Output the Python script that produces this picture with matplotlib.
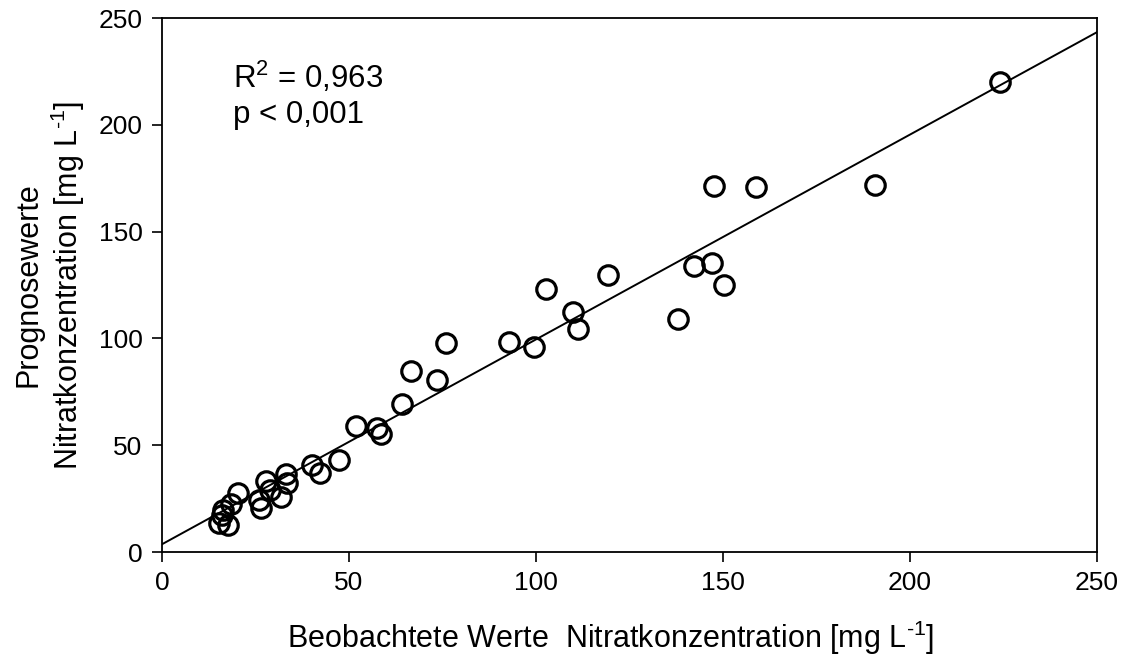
import numpy as np
import matplotlib.pyplot as plt

# observed vs predicted nitrate concentration [mg/L]
beobachtet = [224.1, 147.7, 158.7, 190.7, 119.3, 102.7, 142.3, 147.1, 150.3, 137.9,
              109.8, 111.3, 92.8, 99.5, 75.9, 66.5, 73.4, 64.3, 51.9, 57.4,
              58.5, 47.3, 40.0, 42.2, 33.1, 33.3, 27.8, 28.9, 31.7, 25.8,
              26.5, 20.2, 18.4, 16.4, 15.1, 16.0, 17.7]
prognose = [220.0, 171.5, 171.0, 172.0, 129.7, 123.0, 133.9, 135.2, 125.0, 108.9,
            112.5, 104.4, 98.5, 95.8, 97.7, 84.9, 80.5, 69.3, 58.8, 57.9,
            55.4, 43.1, 40.7, 36.8, 36.5, 32.2, 33.2, 29.0, 25.9, 24.3,
            20.6, 27.5, 22.5, 19.7, 13.4, 17.3, 12.6]
r2_text = "R$^2$ = 0,963"
p_text = "p < 0,001"

plt.rcParams['font.family'] = ['Liberation Sans', 'DejaVu Sans']
plt.rcParams['mathtext.fontset'] = 'custom'
plt.rcParams['mathtext.rm'] = 'Liberation Sans'
plt.rcParams['mathtext.it'] = 'Liberation Sans'

fig = plt.figure(figsize=(11.26, 6.57), dpi=100)
ax = fig.add_axes([0.1439, 0.1598, 0.8303, 0.8128])

x = np.array(beobachtet)
y = np.array(prognose)
slope, intercept = np.polyfit(x, y, 1)
xl = np.array([0, 250])
ax.plot(xl, intercept + slope * xl, color='black', lw=1.4)

ax.plot(x, y, 'o', ms=14, mfc='none', mec='black', mew=2.3)

ax.text(19, 230.5, r2_text, fontsize=22.5, va='top')
ax.text(19, 211.5, p_text, fontsize=22.5, va='top')

ax.set_xlim(0, 250)
ax.set_ylim(0, 250)
ax.set_xticks(range(0, 251, 50))
ax.set_yticks(range(0, 251, 50))
ax.tick_params(direction='out', length=7, width=1.2, labelsize=19, pad=7)
for s in ax.spines.values():
    s.set_linewidth(1.3)

unit = r"[mg L$^{\text{-1}}$]"
ax.set_xlabel("Beobachtete Werte  Nitratkonzentration " + unit, fontsize=22)
ax.xaxis.set_label_coords(0.48, -0.125)
ax.xaxis.label.set_va('top')
ax.set_ylabel("Prognosewerte\nNitratkonzentration " + unit, fontsize=22)
ax.yaxis.set_label_coords(-0.08, 0.5)

plt.savefig('out.png', dpi=100)
